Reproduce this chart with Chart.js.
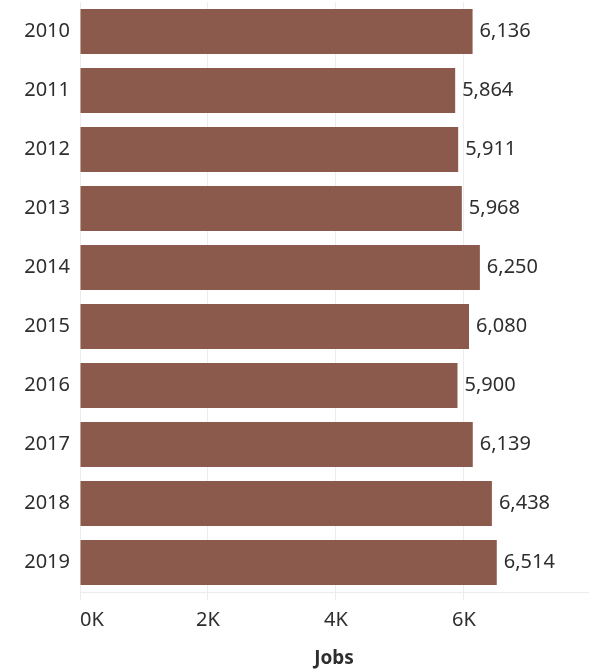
<!DOCTYPE html>
<html lang="en">
<head>
    <meta charset="UTF-8">
    <title>Jobs by year</title>
    <script src="https://cdn.jsdelivr.net/npm/chart.js"></script>
    <style>
        html, body { margin: 0; padding: 0; background: #fff; }
        #wrap { width: 590px; height: 670px; }
    </style>
</head>
<body>
    <div id="wrap"><canvas id="jobsChart" width="590" height="670"></canvas></div>

    <script>
        // data
        const years = ['2010', '2011', '2012', '2013', '2014', '2015', '2016', '2017', '2018', '2019'];
        const jobs = [6136, 5864, 5911, 5968, 6250, 6080, 5900, 6139, 6438, 6514];
        const tickValues = [0, 2000, 4000, 6000];
        const axisMax = 7940;

        const barColor = '#8b5a4c';
        const textColor = '#2e2e2e';
        const gridColor = '#ececec';
        const fontFamily = "'Noto Sans', sans-serif";

        // value labels at the end of each bar
        const valueLabels = {
            id: 'valueLabels',
            afterDatasetsDraw(chart) {
                const ctx = chart.ctx;
                const meta = chart.getDatasetMeta(0);
                ctx.save();
                ctx.font = '20px ' + fontFamily;
                ctx.fillStyle = textColor;
                ctx.textAlign = 'left';
                ctx.textBaseline = 'middle';
                meta.data.forEach((bar, i) => {
                    ctx.fillText(jobs[i].toLocaleString('en-US'), bar.x + 7, bar.y);
                });
                ctx.restore();
            }
        };

        // drop the automatic label padding so the plot fills the canvas like the original
        function noPadding(scale) {
            scale.paddingTop = 0;
            scale.paddingBottom = 0;
            scale.paddingLeft = 0;
            scale.paddingRight = 0;
        }

        new Chart(document.getElementById('jobsChart'), {
            type: 'bar',
            data: {
                labels: years,
                datasets: [{
                    label: 'Jobs',
                    data: jobs,
                    backgroundColor: barColor,
                    barPercentage: 0.76,
                    categoryPercentage: 1.0
                }]
            },
            options: {
                indexAxis: 'y',
                responsive: false,
                animation: false,
                layout: { padding: { top: 2, right: 2, left: 0, bottom: 0 } },
                plugins: {
                    legend: { display: false },
                    tooltip: { enabled: false }
                },
                scales: {
                    x: {
                        min: 0,
                        max: axisMax,
                        afterBuildTicks(scale) {
                            scale.ticks = tickValues.concat([axisMax]).map(v => ({ value: v }));
                        },
                        afterFit(scale) {
                            scale.height = 78;
                            noPadding(scale);
                        },
                        grid: {
                            color: ctx => (ctx.tick && ctx.tick.value === axisMax) ? 'rgba(0,0,0,0)' : gridColor,
                            drawTicks: true,
                            tickLength: 8,
                            tickColor: ctx => (ctx.tick && ctx.tick.value === axisMax) ? 'rgba(0,0,0,0)' : gridColor
                        },
                        border: { display: true, color: gridColor },
                        ticks: {
                            align: 'inner',
                            autoSkip: false,
                            maxRotation: 0,
                            padding: 8,
                            color: textColor,
                            font: { family: fontFamily, size: 20 },
                            callback: v => v === axisMax ? '' : (v / 1000) + 'K'
                        },
                        title: {
                            display: true,
                            text: 'Jobs',
                            color: textColor,
                            font: { family: fontFamily, size: 19, weight: 'bold' },
                            padding: { top: 0, bottom: 0 }
                        }
                    },
                    y: {
                        afterFit(scale) {
                            scale.width = 80;
                            noPadding(scale);
                        },
                        grid: { display: false, drawTicks: false },
                        border: { display: true, color: gridColor },
                        ticks: {
                            padding: 10,
                            color: textColor,
                            font: { family: fontFamily, size: 20 }
                        }
                    }
                }
            },
            plugins: [valueLabels]
        });
    </script>
</body>
</html>
